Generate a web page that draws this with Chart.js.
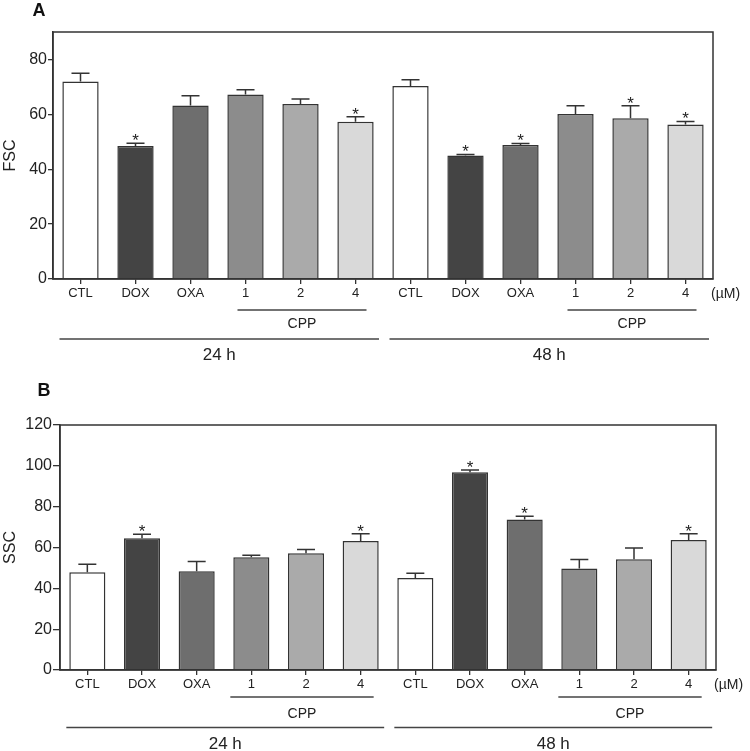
<!DOCTYPE html>
<html>
<head>
<meta charset="utf-8">
<script src="https://cdn.jsdelivr.net/npm/chart.js@4"></script>
<style>
  html, body { margin: 0; padding: 0; background: #fff; }
  .panel { position: absolute; left: 0; width: 750px; }
  #panelA { top: 0; height: 375px; }
  #panelB { top: 375px; height: 376px; }
</style>
</head>
<body>
<div class="panel" id="panelA"><canvas id="chartA" width="750" height="375"></canvas></div>
<div class="panel" id="panelB"><canvas id="chartB" width="750" height="376"></canvas></div>
<script>
// data
const categories = ['CTL', 'DOX', 'OXA', '1', '2', '4', 'CTL', 'DOX', 'OXA', '1', '2', '4'];
const barColors = ['#ffffff', '#444444', '#6e6e6e', '#8c8c8c', '#aaaaaa', '#d9d9d9',
                   '#ffffff', '#444444', '#6e6e6e', '#8c8c8c', '#aaaaaa', '#d9d9d9'];

const fscMean = [72.0, 48.5, 63.2, 67.2, 63.8, 57.3, 70.3, 45.0, 48.8, 60.1, 58.6, 56.3];
const fscErr  = [3.0, 1.0, 3.6, 1.8, 1.8, 1.8, 2.3, 0.4, 0.6, 3.0, 4.5, 1.1];
const fscSig  = [false, true, false, false, false, true, false, true, true, false, true, true];
const fscTicks = [0, 20, 40, 60, 80];

const sscMean = [47.9, 64.5, 48.4, 55.2, 57.2, 63.2, 45.1, 96.9, 73.7, 49.7, 54.3, 63.7];
const sscErr  = [3.9, 2.0, 4.7, 1.0, 1.8, 3.5, 2.3, 1.1, 1.6, 4.4, 5.4, 3.0];
const sscSig  = [false, true, false, false, false, true, false, true, true, false, false, true];
const sscTicks = [0, 20, 40, 60, 80, 100, 120];

const doseGroups = [{ from: 3, to: 5, label: 'CPP' }, { from: 9, to: 11, label: 'CPP' }];
const timeGroups = [{ from: 0, to: 5, label: '24 h' }, { from: 6, to: 11, label: '48 h' }];
const unitLabel = '(\u00b5M)';

const FONT = '"Liberation Sans", Arial, Helvetica, sans-serif';
const INK = '#333333';

// error bars, asterisks, frame and group labels under the axis
const extrasPlugin = {
    id: 'extras',
    afterDatasetsDraw(chart, args, opts) {
        const ctx = chart.ctx;
        const y = chart.scales.y;
        const meta = chart.getDatasetMeta(0);
        ctx.save();
        ctx.strokeStyle = INK;
        ctx.lineWidth = 1.5;
        opts.mean.forEach((m, i) => {
            const bar = meta.data[i];
            const top = y.getPixelForValue(m + opts.err[i]);
            ctx.beginPath();
            ctx.moveTo(bar.x, bar.y);
            ctx.lineTo(bar.x, top);
            ctx.moveTo(bar.x - 9, top);
            ctx.lineTo(bar.x + 9, top);
            ctx.stroke();
            if (opts.sig[i]) {
                ctx.fillStyle = '#222';
                ctx.font = '17px ' + FONT;
                ctx.textAlign = 'center';
                ctx.textBaseline = 'alphabetic';
                ctx.fillText('*', bar.x, top + 3);
            }
        });
        ctx.restore();
    },
    afterDraw(chart, args, opts) {
        const ctx = chart.ctx;
        const area = chart.chartArea;
        const x = chart.scales.x;
        ctx.save();
        ctx.strokeStyle = INK;
        ctx.lineWidth = 1.5;
        ctx.strokeRect(area.left, area.top, area.right - area.left, area.bottom - area.top);

        ctx.fillStyle = '#222';
        ctx.textAlign = 'left';
        ctx.textBaseline = 'middle';
        ctx.font = '14px ' + FONT;
        ctx.fillText(unitLabel, area.right - 2, area.bottom + 15);

        ctx.textAlign = 'center';
        ctx.strokeStyle = '#444';
        ctx.lineWidth = 1.6;
        doseGroups.forEach(g => {
            const x0 = x.getPixelForValue(g.from) + opts.doseOff[0];
            const x1 = x.getPixelForValue(g.to) + opts.doseOff[1];
            const ly = area.bottom + opts.rows[0];
            ctx.beginPath();
            ctx.moveTo(x0, ly);
            ctx.lineTo(x1, ly);
            ctx.stroke();
            ctx.font = '14px ' + FONT;
            ctx.fillText(g.label, (x0 + x1) / 2, area.bottom + opts.rows[1]);
        });
        timeGroups.forEach(g => {
            const x0 = x.getPixelForValue(g.from) - 21;
            const x1 = x.getPixelForValue(g.to) + 23.5;
            const ly = area.bottom + opts.rows[2];
            ctx.beginPath();
            ctx.moveTo(x0, ly);
            ctx.lineTo(x1, ly);
            ctx.stroke();
            ctx.font = '17px ' + FONT;
            ctx.fillText(g.label, (x0 + x1) / 2, area.bottom + opts.rows[3]);
        });

        ctx.font = 'bold 18px ' + FONT;
        ctx.fillStyle = '#111';
        ctx.fillText(opts.letter, opts.letterPos[0], opts.letterPos[1]);
        ctx.restore();
    }
};

function makePanel(id, p) {
    const ctx = document.getElementById(id);
    return new Chart(ctx, {
        type: 'bar',
        data: {
            labels: categories,
            datasets: [{
                data: p.mean,
                backgroundColor: barColors,
                borderColor: INK,
                borderWidth: 1.5,
                barPercentage: 0.66,
                categoryPercentage: 1.0
            }]
        },
        plugins: [extrasPlugin],
        options: {
            responsive: false,
            animation: false,
            events: [],
            layout: { padding: { top: p.top, right: p.right, left: 0, bottom: 0 } },
            scales: {
                x: {
                    offset: true,
                    grid: { offset: false, drawOnChartArea: false, drawTicks: true, tickLength: 5, color: INK, lineWidth: 1.3 },
                    border: { display: true, color: INK, width: 1.5 },
                    ticks: { autoSkip: false, maxRotation: 0, padding: 2, color: '#222', font: { size: 13, family: FONT } },
                    afterFit: s => { s.height = p.xHeight; }
                },
                y: {
                    min: 0,
                    max: p.max,
                    grid: { drawOnChartArea: false, drawTicks: true, tickLength: p.tickLen, color: INK, lineWidth: 1.3 },
                    border: { display: true, color: INK, width: 1.5 },
                    ticks: { stepSize: 20, padding: 1, color: '#222', font: { size: 16, family: FONT } },
                    afterBuildTicks: s => { s.ticks = p.ticks.map(v => ({ value: v })); },
                    title: { display: true, text: p.title, color: '#222', font: { size: 16, family: FONT }, padding: { top: 1, bottom: 0 } },
                    afterFit: s => { s.width = p.yWidth; }
                }
            },
            plugins: {
                legend: { display: false },
                tooltip: { enabled: false },
                extras: {
                    mean: p.mean, err: p.err, sig: p.sig,
                    doseOff: p.doseOff, rows: p.rows,
                    letter: p.letter, letterPos: p.letterPos
                }
            }
        }
    });
}

makePanel('chartA', {
    mean: fscMean, err: fscErr, sig: fscSig, ticks: fscTicks, max: 90, title: 'FSC',
    top: 32, right: 37, xHeight: 96, yWidth: 53, tickLen: 5,
    doseOff: [-8, 11], rows: [31, 45, 60, 76],
    letter: 'A', letterPos: [39, 11]
});

makePanel('chartB', {
    mean: sscMean, err: sscErr, sig: sscSig, ticks: sscTicks, max: 120, title: 'SSC',
    top: 50, right: 34, xHeight: 81, yWidth: 60, tickLen: 7,
    doseOff: [-21, 13], rows: [27, 44, 57.5, 74],
    letter: 'B', letterPos: [44, 16]
});
</script>
</body>
</html>
